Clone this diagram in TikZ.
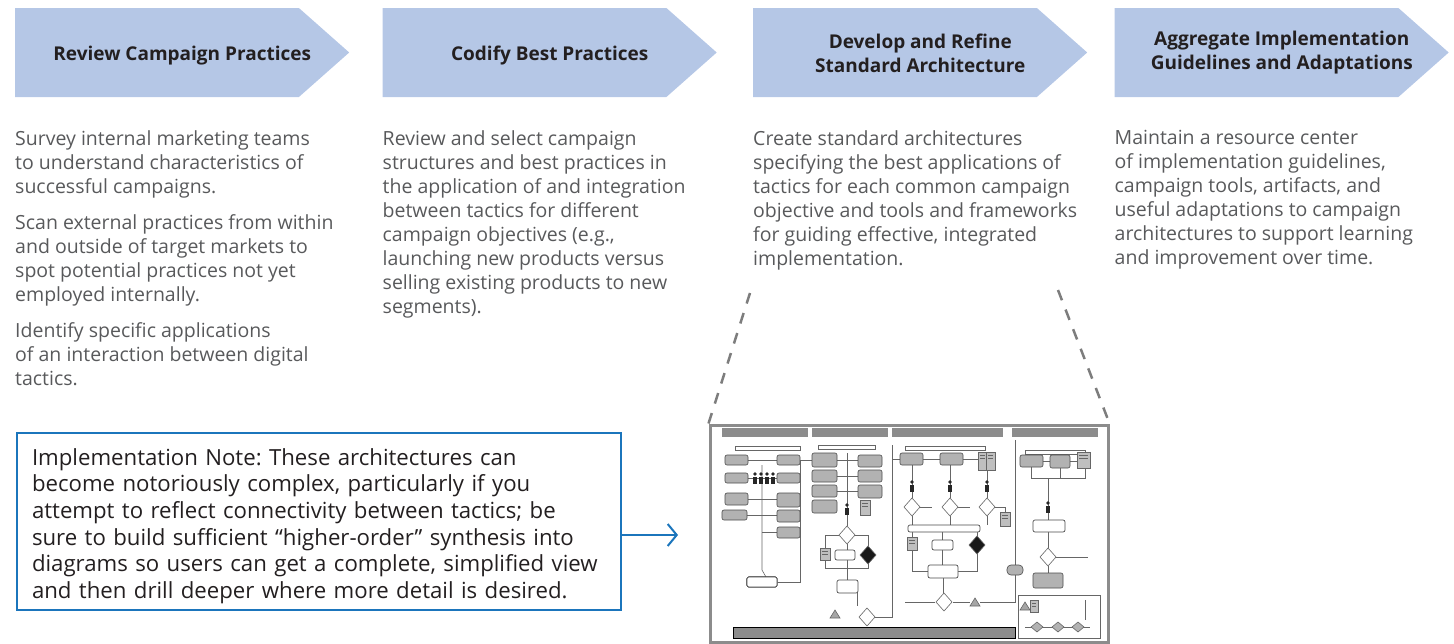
\documentclass[tikz,border=0pt]{standalone}
\usepackage{fontspec}
\setmainfont{Open Sans}
\frenchspacing
\usetikzlibrary{positioning,calc,shapes.symbols,arrows.meta}
\definecolor{phasefill}{RGB}{181,199,230}
\definecolor{headtext}{RGB}{35,31,32}
\definecolor{bodytext}{RGB}{88,89,91}
\definecolor{noteblue}{RGB}{27,117,188}
\definecolor{dashgray}{RGB}{125,125,125}
\definecolor{framegray}{RGB}{140,140,140}

% little helpers for the thumbnail
\newcommand{\tdia}[3]{\draw[tline,fill=#3] (#1,#2-9) -- ++(8,9) -- ++(-8,9) -- ++(-8,-9) -- cycle;}
\newcommand{\tperson}[2]{\fill[black!85] (#1,#2-5) circle (1.8pt); \fill[black!85] (#1-2.2,#2-2.5) rectangle (#1+2.2,#2+5);}
\newcommand{\tdoc}[4]{\draw[tline,fill=black!25] (#1,#2) rectangle (#3,#4); \draw[tline] (#1+2,#2+3) -- (#3-2,#2+3) (#1+2,#2+6) -- (#3-2,#2+6);}

\begin{document}
\begin{tikzpicture}[x=1pt,y=-1pt,inner sep=0pt,node distance=30pt]
\tikzstyle{phase}=[signal, signal to=east, signal pointer angle=83, fill=phasefill, minimum width=334pt, minimum height=89pt]
\tikzstyle{phasetext}=[text=headtext, align=center, font=\fontsize{19}{24}\selectfont\bfseries]
\tikzstyle{body}=[text=bodytext, align=left, font=\fontsize{19.5}{24}\selectfont]
\tikzstyle{notebox}=[draw=noteblue, line width=2pt, minimum height=177pt, text width=574pt, inner xsep=15pt, text=headtext, align=left, font=\fontsize{22.2}{26.6}\selectfont]
\tikzstyle{zoomline}=[dashgray, line width=2.5pt, dash pattern=on 11pt off 10pt]
\tikzstyle{tbox}=[draw=black!70, fill=black!30, rounded corners=2pt, line width=0.6pt]
\tikzstyle{twhite}=[draw=black!70, fill=white, rounded corners=2pt, line width=0.7pt]
\tikzstyle{tline}=[draw=black!60, line width=0.6pt]
\tikzstyle{tbar}=[fill=black!45]
\useasboundingbox (0,0) rectangle (1454,643);

% phases
\node[phase] (review) [anchor=west] at (15,52.5) {};
\node[phase] (codify) [right=33pt of review] {};
\node[phase] (develop) [right=36pt of codify] {};
\node[phase] (aggregate) [right=27pt of develop] {};
\node[phasetext] (reviewhead) at ($(review.west)!.5!(review.east)+(0,3.5)$) {Review Campaign Practices};
\node[phasetext] (codifyhead) at ($(codify.west)!.5!(codify.east)+(0,3.5)$) {Codify Best Practices};
\node[phasetext] (develophead) at ($(develop.west)!.5!(develop.east)+(0,0.5)$) {Develop and Refine\\Standard Architecture};
\node[phasetext] (aggregatehead) at ($(aggregate.west)!.5!(aggregate.east)+(0,0.5)$) {Aggregate Implementation\\Guidelines and Adaptations};

% descriptions
\node[body] (reviewtext) [below right=33pt and 0pt of review.south west] {Survey internal marketing teams\\
to understand characteristics of\\
successful campaigns.\\[12pt]
Scan external practices from within\\
and outside of target markets to\\
spot potential practices not yet\\
employed internally.\\[12pt]
Identify specific applications\\
of an interaction between digital\\
tactics.};
\node[body] (codifytext) [below right=33pt and 0pt of codify.south west] {Review and select campaign\\
structures and best practices in\\
the application of and integration\\
between tactics for different\\
campaign objectives (e.g.,\\
launching new products versus\\
selling existing products to new\\
segments).};
\node[body] (developtext) [below right=33pt and 0pt of develop.south west] {Create standard architectures\\
specifying the best applications of\\
tactics for each common campaign\\
objective and tools and frameworks\\
for guiding effective, integrated\\
implementation.};
\node[body] (aggregatetext) [below right=33pt and 0pt of aggregate.south west] {Maintain a resource center\\
of implementation guidelines,\\
campaign tools, artifacts, and\\
useful adaptations to campaign\\
architectures to support learning\\
and improvement over time.};

% note and zoomed architecture
\node[notebox] (note) at (319,521.5) {\rule{0pt}{26pt}Implementation Note: These architectures can\\
become notoriously complex, particularly if you\\
attempt to reflect connectivity between tactics; be\\
sure to build sufficient “higher-order” synthesis into\\
diagrams so users can get a complete, simplified view\\
and then drill deeper where more detail is desired.};
\node[draw=framegray, line width=3pt, fill=white, minimum width=398pt, minimum height=217pt] (thumb) at (909,533.5) {};
\coordinate (arrowtip) at (678,535);
\coordinate (zoomleft) at (750,293);
\coordinate (zoomright) at (1058,290);
\draw[noteblue, line width=2pt, -{Straight Barb[length=9pt,width=22pt]}] (note.east |- arrowtip) -- (arrowtip);
\draw[zoomline] (zoomleft) -- (thumb.north west);
\draw[zoomline] (zoomright) -- (thumb.north east);

% thumbnail contents
\foreach \a/\b in {722/808, 812/888, 892/1003, 1012/1098}
  \fill[tbar] (\a,428) rectangle (\b,437);
\foreach \a/\b/\c in {735/800/446, 818/875/445, 905/985/446, 1025/1085/450}
  \draw[tline] (\a,\c) rectangle (\b,\c+4);
\draw[tbar] (733,627) rectangle (1015,638);
\draw[tline] (1018,595) rectangle (1100,638);
% column one
\draw[tline] (762,465) -- (762,570) -- (766,577);
\draw[tline] (748,460) -- (777,460) (748,478) -- (777,478) (748,499) -- (777,499);
\draw[tline] (747,515) -- (777,515) (762,532) -- (777,532) (777,582) -- (800,582) -- (800,460) -- (812,460);
\foreach \y/\h in {455/10, 473/10, 493/12}
  \draw[tbox] (725,\y) rectangle (748,\y+\h);
\draw[tbox] (722,510) rectangle (747,520);
\foreach \y/\h in {455/10, 473/10, 493/14, 510/12, 527/11}
  \draw[tbox] (777,\y) rectangle (800,\y+\h);
\foreach \x in {755,761,767,773}
  \tperson{\x}{479}
\draw[twhite] (747,577) rectangle (777,587);
% column two
\draw[tline] (847,453) -- (847,526) (837,460) -- (858,460) (837,476) -- (858,476) (837,491) -- (858,491);
\draw[tline] (847,544) -- (847,580) (839,535) -- (825,535) -- (825,548) (855,535) -- (868,535) -- (868,546);
\draw[tline] (825,560) -- (825,568) -- (868,568) -- (868,562) (857,593) -- (857,606) (875,617) -- (892,617) -- (892,445);
\foreach \y/\h in {453/14, 470/12, 485/12, 500/13}
  \draw[tbox] (812,\y) rectangle (837,\y+\h);
\foreach \y/\h in {455/12, 470/12, 485/13}
  \draw[tbox] (858,\y) rectangle (882,\y+\h);
\tdoc{860}{500}{870}{515}
\tperson{847}{510}
\tdia{847}{535}{white}
\tdoc{820}{548}{830}{560}
\draw[twhite] (835,550) rectangle (855,560);
\tdia{868}{555}{black!90}
\draw[twhite] (837,580) rectangle (858,593);
\tdia{867}{617}{white}
\draw[tline,fill=black!35] (830,618) -- (835,610) -- (840,618) -- cycle;
% column three
\draw[tline] (892,459) -- (900,459) (923,459) -- (940,459) (963,459) -- (978,459);
\draw[tline] (912,465) -- (912,498) (950,465) -- (950,498) (987,470) -- (987,498);
\draw[tline] (912,516) -- (912,525) (950,516) -- (950,525) (987,516) -- (987,525);
\draw[tline] (920,507) -- (932,507) (958,507) -- (970,507) (995,507) -- (1005,507) -- (1005,512);
\draw[tline] (912,532) -- (912,537) (942,532) -- (942,540) (977,532) -- (977,537);
\draw[tline] (912,550) -- (912,571) -- (928,571) (942,550) -- (942,565) (977,553) -- (977,571) -- (958,571);
\draw[tline] (943,578) -- (943,593) (953,602) -- (970,602) (980,602) -- (1015,602) -- (1015,575);
\draw[tline] (935,602) -- (905,602) (1015,565) -- (1015,440);
\foreach \x in {900,940}
  \draw[tbox] (\x,453) rectangle (\x+23,465);
\tdoc{978}{452}{987}{470}
\tdoc{986}{452}{995}{470}
\foreach \x in {912,950,987}{
  \tperson{\x}{487}
  \tdia{\x}{507}{white}
}
\tdoc{1000}{512}{1010}{526}
\draw[twhite] (908,525) rectangle (980,532);
\tdoc{907}{537}{917}{550}
\draw[twhite] (932,540) rectangle (953,550);
\tdia{977}{545}{black!90}
\draw[twhite] (928,565) rectangle (958,578);
\tdia{944}{602}{white}
\draw[tline,fill=black!35] (970,606) -- (975,598) -- (980,606) -- cycle;
\draw[tbox,rounded corners=4pt] (1007,565) rectangle (1023,575);
% column four
\draw[tline] (1031,467) -- (1031,478) -- (1085,478) -- (1085,468) (1060,468) -- (1060,478);
\draw[tline] (1048,478) -- (1048,520) (1048,532) -- (1048,548) (1048,566) -- (1048,573) (1056,557) -- (1088,557);
\draw[tline] (1043,461) -- (1050,461) (1070,461) -- (1077,461);
\draw[tbox] (1020,455) rectangle (1043,467);
\draw[tbox] (1050,455) rectangle (1070,468);
\tdoc{1077}{452}{1090}{468}
\tperson{1048}{508}
\draw[twhite] (1033,520) rectangle (1065,532);
\tdia{1048}{557}{white}
\draw[tbox] (1033,573) rectangle (1063,588);
% inset
\tdoc{1030}{600}{1038}{612}
\draw[tline,fill=black!35] (1020,610) -- (1025,602) -- (1030,610) -- cycle;
\draw[tline] (1025,627) -- (1090,627) (1085,600) -- (1085,620);
\foreach \x in {1037,1058,1078}
  \draw[tline,fill=black!30] (\x-6,627) -- (\x,622) -- (\x+6,627) -- (\x,632) -- cycle;
\end{tikzpicture}
\end{document}
